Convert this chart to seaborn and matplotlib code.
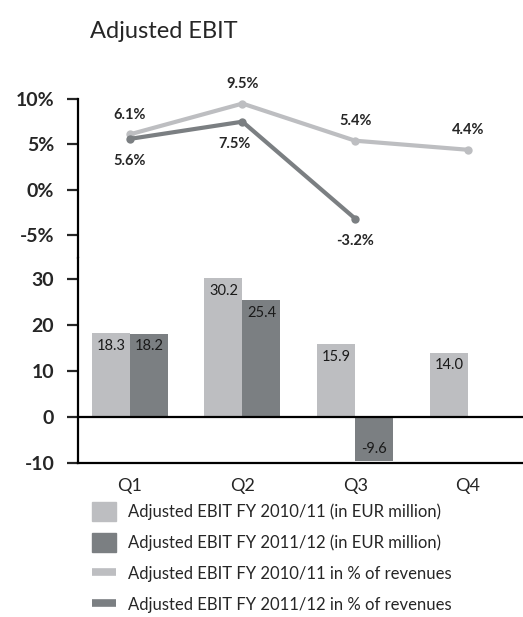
import numpy as np
import pandas as pd
import matplotlib
matplotlib.use("Agg")
import matplotlib.pyplot as plt
from matplotlib.patches import Patch
from matplotlib.lines import Line2D
import seaborn as sns

# Data
quarters = ["Q1", "Q2", "Q3", "Q4"]
ebit_1011 = [18.3, 30.2, 15.9, 14.0]
ebit_1112 = [18.2, 25.4, -9.6, np.nan]
pct_1011 = [6.1, 9.5, 5.4, 4.4]
pct_1112 = [5.6, 7.5, -3.2, np.nan]
pct_ticks = [10, 5, 0, -5]
bar_ticks = [30, 20, 10, 0, -10]

series_bar = ["Adjusted EBIT FY 2010/11 (in EUR million)",
              "Adjusted EBIT FY 2011/12 (in EUR million)"]
series_pct = ["Adjusted EBIT FY 2010/11 in % of revenues",
              "Adjusted EBIT FY 2011/12 in % of revenues"]

light = "#bdbec1"
dark = "#7b7f82"

sns.set_style("white")
plt.rcParams["font.family"] = ["Lato", "DejaVu Sans"]
plt.rcParams["axes.unicode_minus"] = False

bars = pd.DataFrame({
    "quarter": quarters * 2,
    "value": ebit_1011 + ebit_1112,
    "series": [series_bar[0]] * 4 + [series_bar[1]] * 4,
})
pcts = pd.DataFrame({
    "quarter": quarters * 2,
    "value": pct_1011 + pct_1112,
    "series": [series_pct[0]] * 4 + [series_pct[1]] * 4,
})

fig = plt.figure(figsize=(5.23, 6.17), dpi=100)
ax_top = fig.add_axes([0.1491, 0.5818, 0.8509, 0.2577])
ax_bot = fig.add_axes([0.1491, 0.2496, 0.8509, 0.3322])

# --- bars ---
sns.barplot(data=bars, x="quarter", y="value", hue="series", order=quarters,
            palette=[light, dark], width=0.675, saturation=1, ax=ax_bot,
            legend=False, linewidth=0, edgecolor="none")
for c in ax_bot.containers:
    ax_bot.bar_label(c, fmt="%.1f", padding=-14, fontsize=10.5, color="#1a1a1a")
ax_bot.axhline(0, color="black", lw=1.6, zorder=3)
ax_bot.set_ylim(-10, 34.65)
ax_bot.set_yticks(bar_ticks)
ax_bot.set_xlim(-0.46, 3.49)
ax_bot.set_xlabel("")
ax_bot.set_ylabel("")
for s in ["top", "right"]:
    ax_bot.spines[s].set_visible(False)
for s in ["left", "bottom"]:
    ax_bot.spines[s].set_linewidth(1.6)
    ax_bot.spines[s].set_color("black")
ax_bot.tick_params(axis="y", left=True, length=8, width=1.6, labelsize=14, pad=9)
ax_bot.tick_params(axis="x", bottom=False, labelsize=13, pad=7)
for t in ax_bot.get_yticklabels():
    t.set_fontweight("bold")

# --- percentage lines ---
sns.lineplot(data=pcts, x="quarter", y="value", hue="series",
             palette=[light, dark], lw=3, marker="o", markersize=6,
             markeredgewidth=0, ax=ax_top, legend=False, sort=False)
for vals, dy in [(pct_1011, 14), (pct_1112, -16)]:
    for i, v in enumerate(vals):
        if np.isnan(v):
            continue
        dx = -6 if (dy < 0 and i == 1) else 0
        ax_top.annotate(f"{v:.1f}%", (i, v), xytext=(dx, dy),
                        textcoords="offset points", ha="center", va="center",
                        fontsize=10.5, fontweight="bold", annotation_clip=False)
ax_top.set_ylim(-7.55, 10)
ax_top.set_yticks(pct_ticks)
ax_top.set_yticklabels([f"{t}%" for t in pct_ticks])
ax_top.set_xlim(-0.46, 3.49)
ax_top.set_xlabel("")
ax_top.set_ylabel("")
ax_top.set_xticks([])
for s in ["top", "right", "bottom"]:
    ax_top.spines[s].set_visible(False)
ax_top.spines["left"].set_linewidth(1.6)
ax_top.spines["left"].set_color("black")
ax_top.tick_params(axis="y", left=True, length=8, width=1.6, labelsize=14, pad=9)
for t in ax_top.get_yticklabels():
    t.set_fontweight("bold")

fig.text(90 / 523, 1 - 38 / 617, "Adjusted EBIT", fontsize=17, va="baseline")

handles = [Patch(color=light), Patch(color=dark),
           Line2D([], [], color=light, lw=5.5, solid_capstyle="butt"),
           Line2D([], [], color=dark, lw=5.5, solid_capstyle="butt")]
fig.legend(handles, series_bar + series_pct, loc="upper left",
           bbox_to_anchor=(92 / 523, 1 - 502 / 617), frameon=False,
           fontsize=12, handlelength=1.44, handleheight=1.38,
           handletextpad=0.72, labelspacing=0.72, borderpad=0,
           borderaxespad=0)

fig.savefig("out.png", dpi=100)
